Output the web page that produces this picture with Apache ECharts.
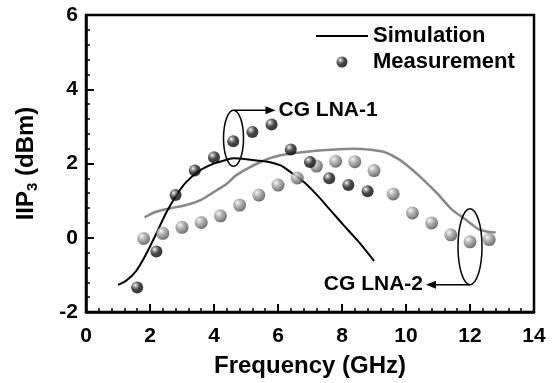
<!DOCTYPE html>
<html>
<head>
<meta charset="utf-8">
<script src="https://cdn.jsdelivr.net/npm/echarts@6/dist/echarts.min.js"></script>
<style>
  html, body { margin: 0; padding: 0; background: #fff; }
  #chart { width: 552px; height: 383px; }
</style>
</head>
<body>
<div id="chart"></div>
<script>
// measured IIP3, CG LNA-1 (dark dots)
const lna1Freq = [1.6, 2.2, 2.8, 3.4, 4.0, 4.6, 5.2, 5.8, 6.4, 7.0, 7.6, 8.2, 8.8]
const lna1Meas = [-1.34, -0.37, 1.15, 1.81, 2.17, 2.6, 2.85, 3.05, 2.38, 2.04, 1.60, 1.42, 1.25]

// measured IIP3, CG LNA-2 (grey dots)
const lna2Freq = [1.8, 2.4, 3.0, 3.6, 4.2, 4.8, 5.4, 6.0, 6.6, 7.2, 7.8, 8.4, 9.0, 9.6, 10.2, 10.8, 11.4, 12.0, 12.6]
const lna2Meas = [-0.02, 0.12, 0.28, 0.41, 0.59, 0.88, 1.15, 1.42, 1.61, 1.93, 2.06, 2.05, 1.81, 1.18, 0.67, 0.40, 0.08, -0.11, -0.05]

// simulation curves
const sim1Freq = [1.0, 1.25, 1.57, 1.88, 2.19, 2.51, 2.82, 3.13, 3.55, 3.97, 4.39, 4.62, 5.14, 5.66, 6.08, 6.39, 6.81, 7.23, 7.65, 8.07, 8.49, 9.0]
const sim1Vals = [-1.27, -1.16, -0.89, -0.44, 0.10, 0.68, 1.14, 1.50, 1.81, 1.99, 2.10, 2.14, 2.10, 2.05, 1.95, 1.77, 1.50, 1.14, 0.73, 0.32, -0.08, -0.62]
const sim2Freq = [1.83, 2.19, 2.61, 3.13, 3.60, 3.97, 4.39, 4.66, 5.04, 5.56, 6.08, 6.81, 7.65, 8.38, 8.90, 9.32, 9.74, 10.16, 10.57, 10.99, 11.41, 11.83, 12.25, 12.51, 12.80]
const sim2Vals = [0.55, 0.70, 0.79, 0.88, 1.02, 1.22, 1.45, 1.66, 1.86, 2.08, 2.22, 2.31, 2.37, 2.40, 2.37, 2.31, 2.13, 1.86, 1.54, 1.18, 0.78, 0.51, 0.24, 0.17, 0.14]

const xTicks = [0, 2, 4, 6, 8, 10, 12, 14]
const yTicks = [-2, 0, 2, 4, 6]

const font = '"Liberation Sans", Arial, sans-serif'
const zip = (xs, ys) => xs.map((x, i) => [x, ys[i]])

const darkBall = {
  type: 'radial', x: 0.35, y: 0.32, r: 0.75,
  colorStops: [
    { offset: 0, color: '#ffffff' },
    { offset: 0.2, color: '#8a8a8a' },
    { offset: 0.5, color: '#1a1a1a' },
    { offset: 1, color: '#000000' }
  ]
}
const greyBall = {
  type: 'radial', x: 0.35, y: 0.32, r: 0.75,
  colorStops: [
    { offset: 0, color: '#f4f4f4' },
    { offset: 0.35, color: '#a8a8a8' },
    { offset: 0.75, color: '#6a6a6a' },
    { offset: 1, color: '#3a3a3a' }
  ]
}

const chart = echarts.init(document.getElementById('chart'))

const axisCommon = {
  type: 'value',
  interval: 2,
  axisLine: { show: true, onZero: false, lineStyle: { color: '#000', width: 2.5 } },
  axisTick: { show: true, inside: true, length: 8, lineStyle: { color: '#000', width: 2 } },
  minorTick: { show: true, splitNumber: 5, length: 4, lineStyle: { color: '#000', width: 1.5 } },
  splitLine: { show: false },
  axisLabel: { fontFamily: font, fontSize: 21, fontWeight: 'bold', color: '#000' },
  nameLocation: 'middle',
  nameTextStyle: { fontFamily: font, fontSize: 24, fontWeight: 'bold', color: '#000' }
}

chart.setOption({
  animation: false,
  grid: {
    left: 86, right: 18, top: 15, bottom: 71,
    show: true, borderColor: '#000', borderWidth: 2.5, backgroundColor: 'transparent'
  },
  legend: {
    orient: 'vertical',
    left: 310,
    top: 20,
    itemWidth: 52,
    itemHeight: 11,
    itemGap: 4,
    selectedMode: false,
    data: [
      { name: 'Simulation', itemStyle: { opacity: 0 } },
      { name: 'Measurement' }
    ],
    textStyle: { fontFamily: font, fontSize: 22, fontWeight: 'bold', color: '#000' }
  },
  xAxis: {
    ...axisCommon,
    min: 0, max: 14,
    name: 'Frequency (GHz)',
    nameGap: 42,
    axisLabel: {
      ...axisCommon.axisLabel, margin: 14,
      formatter: v => xTicks.includes(v) ? String(v) : ''
    }
  },
  yAxis: {
    ...axisCommon,
    min: -2, max: 6,
    name: '{a|IIP}{s|3}{a| (dBm)}',
    nameGap: 46,
    nameTextStyle: {
      ...axisCommon.nameTextStyle,
      rich: {
        a: { fontFamily: font, fontSize: 24, fontWeight: 'bold', color: '#000', lineHeight: 28 },
        s: { fontFamily: font, fontSize: 15, fontWeight: 'bold', color: '#000', lineHeight: 28, verticalAlign: 'bottom', padding: [10, 0, 0, 0] }
      }
    },
    axisLabel: {
      ...axisCommon.axisLabel, margin: 8,
      formatter: v => yTicks.includes(v) ? String(v) : ''
    }
  },
  series: [
    {
      name: 'Simulation', type: 'line', data: zip(sim1Freq, sim1Vals),
      smooth: 0.3, symbol: 'none', color: '#000',
      lineStyle: { color: '#000', width: 2 }, z: 3
    },
    {
      name: 'Simulation', type: 'line', data: zip(sim2Freq, sim2Vals),
      smooth: 0.3, symbol: 'none', color: '#888',
      lineStyle: { color: '#888', width: 2.5 }, z: 2
    },
    {
      name: 'Measurement', type: 'scatter', data: zip(lna1Freq, lna1Meas),
      symbolSize: 12, itemStyle: { color: darkBall }, z: 5
    },
    {
      name: 'Measurement', type: 'scatter', data: zip(lna2Freq, lna2Meas),
      symbolSize: 13, itemStyle: { color: greyBall }, z: 4
    }
  ]
})

// annotations: ellipse around a measured point, arrow to a label
const notes = [
  { label: 'CG LNA-1', at: [4.61, 2.68], rx: 10, ry: 28, from: 'top', dx: 42 },
  { label: 'CG LNA-2', at: [12.0, -0.24], rx: 12, ry: 38, from: 'bottom', dx: -44 }
]

const graphics = []
notes.forEach(n => {
  const [cx, cy] = chart.convertToPixel({ gridIndex: 0 }, n.at)
  const ay = n.from === 'top' ? cy - n.ry : cy + n.ry
  const tipX = cx + n.dx
  const dir = Math.sign(n.dx)
  graphics.push({
    type: 'ellipse', shape: { cx, cy, rx: n.rx, ry: n.ry },
    style: { fill: 'none', stroke: '#000', lineWidth: 1.5 }, z: 10
  })
  graphics.push({
    type: 'line', shape: { x1: cx, y1: ay, x2: tipX - dir * 6, y2: ay },
    style: { stroke: '#000', lineWidth: 1.5 }, z: 10
  })
  graphics.push({
    type: 'polygon',
    shape: { points: [[tipX, ay], [tipX - dir * 10, ay - 4], [tipX - dir * 10, ay + 4]] },
    style: { fill: '#000' }, z: 10
  })
  graphics.push({
    type: 'text', x: tipX + dir * 3, y: ay,
    style: {
      text: n.label, fill: '#000', font: 'bold 21px ' + font,
      textAlign: dir > 0 ? 'left' : 'right', textVerticalAlign: 'middle'
    },
    z: 10
  })
})
chart.setOption({ graphic: graphics })
</script>
</body>
</html>
